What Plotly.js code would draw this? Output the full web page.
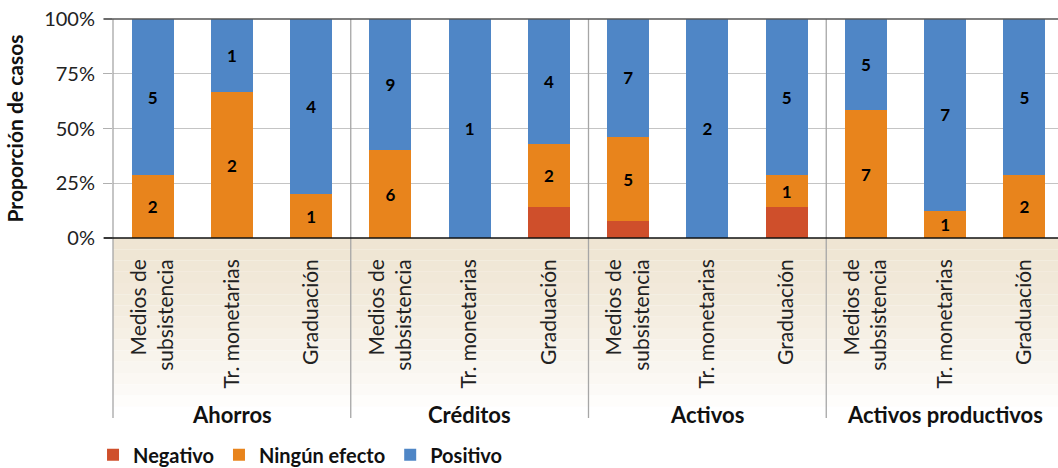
<!DOCTYPE html>
<html>
<head>
<meta charset="utf-8">
<script src="https://cdn.plot.ly/plotly-3.0.1.min.js"></script>
<style>
html,body{margin:0;padding:0;overflow:hidden;background:#fff;}
#chart{width:1064px;height:480px;}
</style>
</head>
<body>
<div id="chart"></div>
<script>
// Data
const groups = ["Ahorros","Ahorros","Ahorros","Créditos","Créditos","Créditos","Activos","Activos","Activos","Activos productivos","Activos productivos","Activos productivos"];
const programs = ["Medios de<br>subsistencia","Tr. monetarias","Graduación","Medios de<br>subsistencia","Tr. monetarias","Graduación","Medios de<br>subsistencia","Tr. monetarias","Graduación","Medios de<br>subsistencia","Tr. monetarias","Graduación"];
const negativo     = [0,0,0, 0,0,1, 1,0,1, 0,0,0];
const ningunEfecto = [2,2,1, 6,0,2, 5,0,1, 7,1,2];
const positivo     = [5,1,4, 9,1,4, 7,2,5, 5,7,5];
const seriesNames = ["Negativo","Ningún efecto","Positivo"];
const yTicks = [0,25,50,75,100];
const yTickText = yTicks.map(v => v + "%");

const colors = ["#CF4F2B","#E8841C","#4F86C6"];
const FONT = "Lato, 'Open Sans', sans-serif";
const lbl = v => v ? String(v) : "";

// unique category ids (group + program), displayed with the program name only
const cats = groups.map((g, i) => g + " | " + programs[i]);

const mk = (vals, i, showText) => ({
  type: "bar",
  name: seriesNames[i],
  x: cats,
  y: vals,
  marker: {color: colors[i], line: {width: 0}},
  text: showText ? vals.map(lbl) : vals.map(() => ""),
  textposition: showText ? "inside" : "none",
  insidetextanchor: "middle",
  textangle: 0,
  constraintext: "none",
  textfont: {family: FONT, size: 17, color: "#000", weight: "bold"},
  hoverinfo: "skip"
});

const data = [
  mk(negativo, 0, false),
  mk(ningunEfecto, 1, true),
  mk(positivo, 2, true)
];

// Label area background (gradient approximation) + separators
const shapes = [];
const bottomY = -0.822;
const steps = 16;
const c0 = [239,229,211], c1 = [255,255,255];
for (let k = 0; k < steps; k++) {
  const t = k / (steps - 1);
  const c = c0.map((v, j) => Math.round(v + (c1[j] - v) * Math.pow(t, 1.4)));
  shapes.push({
    type: "rect", xref: "paper", yref: "paper", layer: "below",
    x0: 0, x1: 1.01,
    y0: bottomY * (k / steps), y1: bottomY * ((k + 1) / steps),
    fillcolor: `rgb(${c[0]},${c[1]},${c[2]})`, line: {width: 0}
  });
}
[0, 0.25, 0.5, 0.75].forEach(px => shapes.push({
  type: "line", xref: "paper", yref: "paper", layer: "above",
  x0: px, x1: px, y0: bottomY, y1: 1,
  line: {color: "#a6a6a6", width: 1.3}
}));
shapes.push({type:"line", xref:"paper", yref:"paper", x0:-0.0095, x1:1, y0:1, y1:1, line:{color:"#555", width:1.5}});
shapes.push({type:"line", xref:"paper", yref:"paper", x0:-0.0095, x1:1, y0:0, y1:0, line:{color:"#111", width:1.5}});

// Group labels
const uniqueGroups = groups.filter((g, i) => groups.indexOf(g) === i);
const annotations = uniqueGroups.map(g => {
  const idx = groups.map((gg, i) => gg === g ? i : -1).filter(i => i >= 0);
  return {
    xref: "x", yref: "paper",
    x: cats[idx[Math.floor(idx.length / 2)]], y: -0.805,
    text: g, showarrow: false, xanchor: "center", yanchor: "middle",
    font: {family: FONT, size: 22, color: "#111", weight: "bold"}
  };
});

const layout = {
  width: 1064, height: 480,
  margin: {l: 113, r: 0, t: 19, b: 242},
  paper_bgcolor: "#fff", plot_bgcolor: "rgba(0,0,0,0)",
  barmode: "stack", barnorm: "percent", bargap: 0.47,
  font: {family: FONT, color: "#222"},
  showlegend: true,
  legend: {
    orientation: "h", x: -0.021, xanchor: "left", y: -0.99, yanchor: "middle",
    traceorder: "normal", itemgap: 14,
    font: {family: FONT, size: 20, color: "#111", weight: "bold"},
    itemwidth: 30, bgcolor: "rgba(0,0,0,0)"
  },
  xaxis: {
    type: "category",
    tickmode: "array", tickvals: cats, ticktext: programs,
    showgrid: false, showline: false, zeroline: false,
    tickangle: -90,
    ticks: "",
    ticklabelstandoff: 16,
    tickfont: {family: FONT, size: 21, color: "#222"}
  },
  yaxis: {
    range: [0, 100], tickmode: "array", tickvals: yTicks, ticktext: yTickText,
    showgrid: true, gridcolor: "#c4c4c4", gridwidth: 1.3,
    zeroline: false, showline: false,
    ticks: "outside", ticklen: 9, tickcolor: "#b0b0b0", tickwidth: 1.3,
    ticklabelstandoff: 4,
    tickfont: {family: FONT, size: 20, color: "#222"},
    title: {text: "Proporción de casos", font: {family: FONT, size: 21, color: "#111", weight: "bold"}, standoff: 14}
  },
  shapes: shapes,
  annotations: annotations
};

Plotly.newPlot("chart", data, layout, {displayModeBar: false, staticPlot: true});
</script>
</body>
</html>
